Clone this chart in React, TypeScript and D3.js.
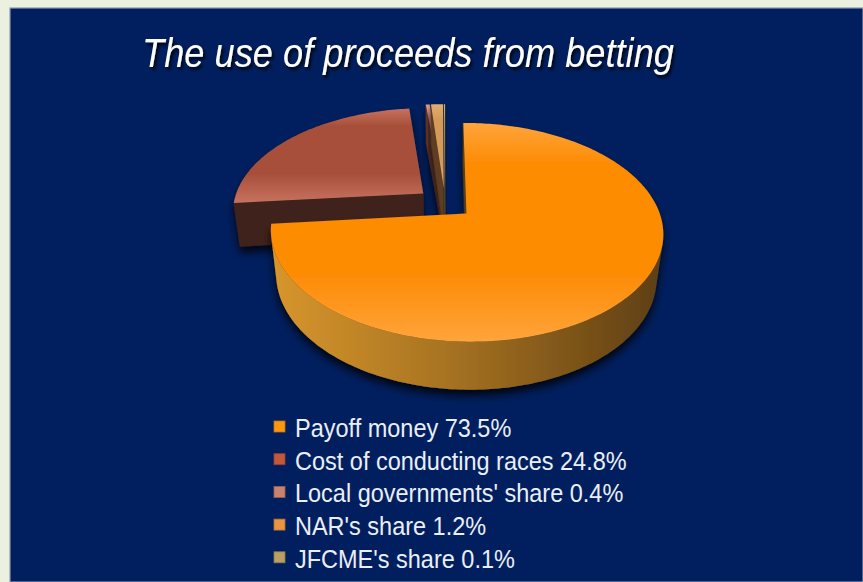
import React from "react";
import * as d3 from "d3";

const categories = [
  "Payoff money",
  "Cost of conducting races",
  "Local governments' share",
  "NAR's share",
  "JFCME's share",
];
const shares = [73.5, 24.8, 0.4, 1.2, 0.1];
const titleText = "The use of proceeds from betting";

const topLight = ["#ffa43c", "#c77260", "#dc9a8a", "#e2ae70", "#d0bc80"];
const topBase = ["#fd8c06", "#a8503a", "#c9806e", "#d69a58", "#bca668"];
const sideLight = ["#d8962c", "#553127", "#7a4436", "#86582f", "#766640"];
const sideDark = ["#5e3e12", "#40241e", "#5a3026", "#5e3c22", "#544a30"];
const legendColors = ["#ff9810", "#c2593c", "#c98270", "#e99440", "#b9a062"];

const W = 863;
const H = 582;
const K = 190;
const CX = 445;
const CY = 203;
const DCAM = 5;
const THICK = 0.28;
const EXPLODE = 0.15;
const SIN_PHI = 0.54;
const COS_PHI = Math.sqrt(1 - SIN_PHI * SIN_PHI);
const CAM = [0, DCAM * SIN_PHI, DCAM * COS_PHI];

function project(x: number, y: number, z: number): [number, number] {
  const vy = y * COS_PHI - z * SIN_PHI;
  const vz = y * SIN_PHI + z * COS_PHI;
  const s = DCAM / (DCAM - vz);
  return [CX + x * K * s, CY - vy * K * s];
}

const line = d3.line<[number, number]>();

type Slice = {
  i: number;
  a0: number;
  a1: number;
  ox: number;
  oz: number;
  key: number;
};

function buildSlices(): Slice[] {
  const pie = d3
    .pie<number>()
    .sort(null)
    .startAngle(0)
    .endAngle(2 * Math.PI)
    .value((d) => d);
  const arcs = pie(shares);
  const out = arcs.map((a, i) => {
    const mid = (a.startAngle + a.endAngle) / 2;
    const ox = EXPLODE * Math.sin(mid);
    const oz = -EXPLODE * Math.cos(mid);
    const cz = oz - 0.5 * Math.cos(mid);
    const vz = cz * COS_PHI;
    return { i, a0: a.startAngle, a1: a.endAngle, ox, oz, key: Math.round(vz * 20) };
  });
  return out.slice().sort((a, b) => a.key - b.key);
}

function rim(s: Slice, th: number, y: number): [number, number] {
  return project(s.ox + Math.sin(th), y, s.oz - Math.cos(th));
}

function sampleAngles(a0: number, a1: number): number[] {
  const n = Math.max(2, Math.ceil(((a1 - a0) * 180) / Math.PI));
  return d3.range(n + 1).map((k) => a0 + ((a1 - a0) * k) / n);
}

function faceVisible(n: number[], p: number[]): boolean {
  return n[0] * (CAM[0] - p[0]) + n[1] * (CAM[1] - p[1]) + n[2] * (CAM[2] - p[2]) > 0;
}

function SliceShape({ s }: { s: Slice }) {
  const angles = sampleAngles(s.a0, s.a1);
  const apexTop = project(s.ox, 0, s.oz);
  const apexBot = project(s.ox, -THICK, s.oz);
  const topPts: [number, number][] = [apexTop, ...angles.map((t) => rim(s, t, 0))];
  const topPath = line(topPts) + "Z";

  const runs: number[][] = [];
  let cur: number[] | null = null;
  for (let k = 0; k < angles.length - 1; k++) {
    const tm = (angles[k] + angles[k + 1]) / 2;
    const n = [Math.sin(tm), 0, -Math.cos(tm)];
    const p = [s.ox + Math.sin(tm), -THICK / 2, s.oz - Math.cos(tm)];
    if (faceVisible(n, p)) {
      if (!cur) {
        cur = [angles[k]];
        runs.push(cur);
      }
      cur.push(angles[k + 1]);
    } else {
      cur = null;
    }
  }
  const sidePaths = runs.map((r) => {
    const pts: [number, number][] = [
      ...r.map((t) => rim(s, t, 0)),
      ...r
        .slice()
        .reverse()
        .map((t) => rim(s, t, -THICK)),
    ];
    return line(pts) + "Z";
  });

  const radial: string[] = [];
  const n0 = [-Math.cos(s.a0), 0, -Math.sin(s.a0)];
  const n1 = [Math.cos(s.a1), 0, Math.sin(s.a1)];
  const pc = [s.ox, -THICK / 2, s.oz];
  if (faceVisible(n0, pc)) {
    radial.push(line([apexTop, rim(s, s.a0, 0), rim(s, s.a0, -THICK), apexBot]) + "Z");
  }
  if (faceVisible(n1, pc)) {
    radial.push(line([apexTop, rim(s, s.a1, 0), rim(s, s.a1, -THICK), apexBot]) + "Z");
  }

  const xs = topPts.map((p) => p[0]);
  const ys = topPts.map((p) => p[1]);
  const [xMin, xMax] = d3.extent(xs) as [number, number];
  const [yMin, yMax] = d3.extent(ys) as [number, number];

  return (
    <g filter="url(#sliceShadow)">
      <defs>
        <linearGradient
          id={`side${s.i}`}
          gradientUnits="userSpaceOnUse"
          x1={xMin}
          x2={xMax}
          y1={0}
          y2={0}
        >
          <stop offset="0" stopColor={sideLight[s.i]} />
          <stop offset="0.45" stopColor={d3.interpolateRgb(sideLight[s.i], sideDark[s.i])(0.4)} />
          <stop offset="1" stopColor={sideDark[s.i]} />
        </linearGradient>
        <linearGradient
          id={`top${s.i}`}
          gradientUnits="userSpaceOnUse"
          x1={0}
          x2={0}
          y1={yMin}
          y2={yMax}
        >
          <stop offset="0" stopColor={topLight[s.i]} />
          <stop offset="0.18" stopColor={topBase[s.i]} />
          <stop offset="0.7" stopColor={topBase[s.i]} />
          <stop offset="1" stopColor={topLight[s.i]} />
        </linearGradient>
      </defs>
      {radial.map((d, k) => (
        <path key={`r${k}`} d={d} fill={sideDark[s.i]} stroke={sideDark[s.i]} strokeWidth={0.5} />
      ))}
      {sidePaths.map((d, k) => (
        <path key={`s${k}`} d={d} fill={`url(#side${s.i})`} />
      ))}
      <path d={topPath} fill={`url(#top${s.i})`} />
    </g>
  );
}

export default function App() {
  const slices = buildSlices();
  const legendX = 274;
  const legendY0 = 437;
  const legendStep = 32.7;
  return (
    <svg
      width={W}
      height={H}
      style={{ position: "absolute", left: 0, top: 0, display: "block" }}
      fontFamily="'Liberation Sans', Arial, sans-serif"
    >
      <defs>
        <filter id="sliceShadow" x="-20%" y="-20%" width="140%" height="160%">
          <feGaussianBlur in="SourceAlpha" stdDeviation="4" />
          <feOffset dx="0" dy="6" result="b" />
          <feComponentTransfer>
            <feFuncA type="linear" slope="0.8" />
          </feComponentTransfer>
          <feMerge>
            <feMergeNode />
            <feMergeNode in="SourceGraphic" />
          </feMerge>
        </filter>
        <filter id="textShadow" x="-10%" y="-30%" width="120%" height="160%">
          <feDropShadow dx="2" dy="3" stdDeviation="1.6" floodColor="#000000" floodOpacity="0.8" />
        </filter>
      </defs>
      <rect x={0} y={0} width={W} height={H} fill="#ebf1de" />
      <rect x={10} y={8} width={W - 10} height={H - 8} fill="#011f5e" stroke="#8d9ab0" strokeWidth={1.2} />
      <text
        x={142}
        y={67}
        fontSize={40}
        fontStyle="italic"
        fill="#ffffff"
        textLength={532}
        lengthAdjust="spacingAndGlyphs"
        filter="url(#textShadow)"
      >
        {titleText}
      </text>
      {slices.map((s) => (
        <SliceShape key={s.i} s={s} />
      ))}
      {categories.map((c, i) => {
        const y = legendY0 + i * legendStep;
        return (
          <g key={c}>
            <rect
              x={legendX}
              y={y - 16}
              width={11}
              height={11}
              fill={legendColors[i]}
              stroke={d3.color(legendColors[i])!.darker(0.8).toString()}
              strokeWidth={0.8}
            />
            <text
              x={295}
              y={y}
              fontSize={25}
              fill="#eaeff7"
              transform={`translate(295,0) scale(0.94,1) translate(-295,0)`}
            >
              {`${c} ${shares[i]}%`}
            </text>
          </g>
        );
      })}
    </svg>
  );
}
